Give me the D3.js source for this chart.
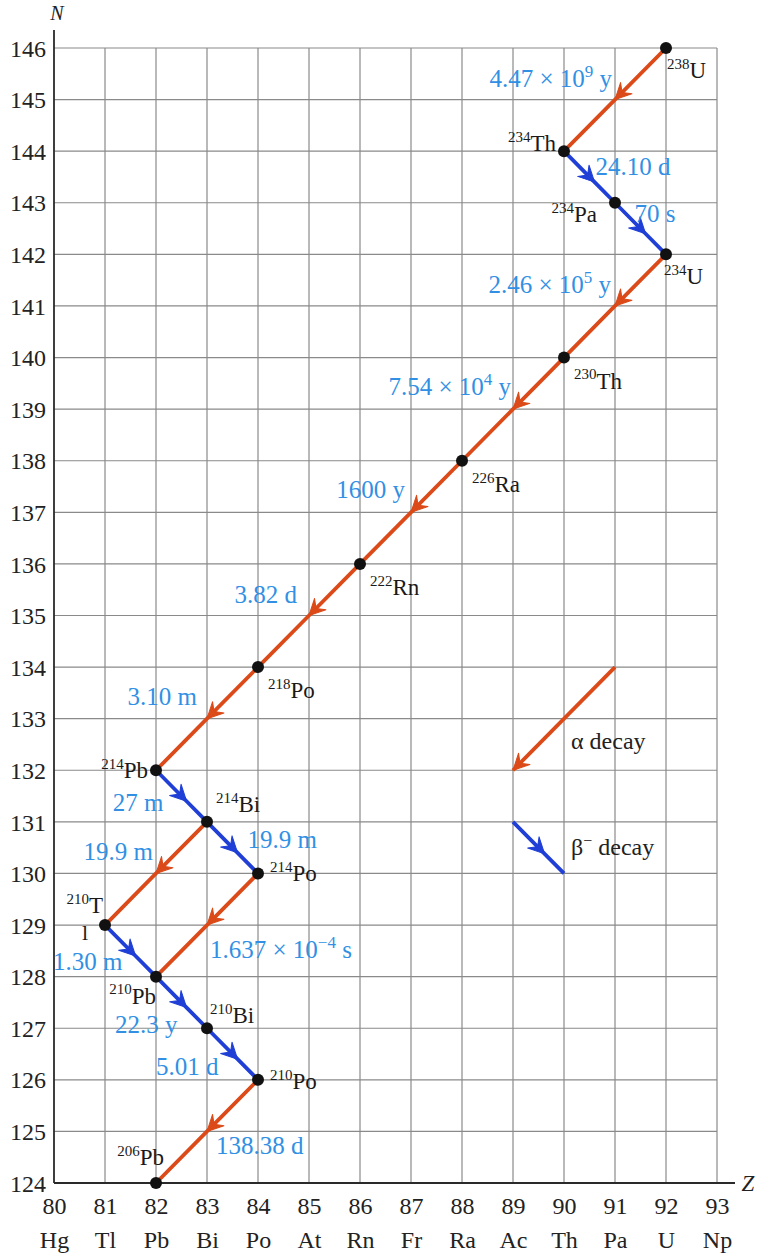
<!DOCTYPE html>
<html>
<head>
<meta charset="utf-8">
<script src="https://cdn.jsdelivr.net/npm/d3@7"></script>
<style>
  body { margin: 0; background: #fff; }
</style>
</head>
<body>
<svg id="chart" width="761" height="1255" font-family="'Liberation Serif', 'Times New Roman', Times, serif"></svg>
<script>
// axis ticks
const zTicks = [80, 81, 82, 83, 84, 85, 86, 87, 88, 89, 90, 91, 92, 93];
const elements = ["Hg", "Tl", "Pb", "Bi", "Po", "At", "Rn", "Fr", "Ra", "Ac", "Th", "Pa", "U", "Np"];
const nTicks = [124, 125, 126, 127, 128, 129, 130, 131, 132, 133, 134, 135,
  136, 137, 138, 139, 140, 141, 142, 143, 144, 145, 146];

// nuclides: id, label ({..} = superscript), Z, N
const nuclides = [
  ["U238", "{238}U", 92, 146],
  ["Th234", "{234}Th", 90, 144],
  ["Pa234", "{234}Pa", 91, 143],
  ["U234", "{234}U", 92, 142],
  ["Th230", "{230}Th", 90, 140],
  ["Ra226", "{226}Ra", 88, 138],
  ["Rn222", "{222}Rn", 86, 136],
  ["Po218", "{218}Po", 84, 134],
  ["Pb214", "{214}Pb", 82, 132],
  ["Bi214", "{214}Bi", 83, 131],
  ["Po214", "{214}Po", 84, 130],
  ["Tl210", "{210}T", 81, 129],
  ["Pb210", "{210}Pb", 82, 128],
  ["Bi210", "{210}Bi", 83, 127],
  ["Po210", "{210}Po", 84, 126],
  ["Pb206", "{206}Pb", 82, 124]
];

// decays: from, to, type, half-life
const decays = [
  ["U238", "Th234", "alpha", "4.47 × 10{9} y"],
  ["Th234", "Pa234", "beta", "24.10 d"],
  ["Pa234", "U234", "beta", "70 s"],
  ["U234", "Th230", "alpha", "2.46 × 10{5} y"],
  ["Th230", "Ra226", "alpha", "7.54 × 10{4} y"],
  ["Ra226", "Rn222", "alpha", "1600 y"],
  ["Rn222", "Po218", "alpha", "3.82 d"],
  ["Po218", "Pb214", "alpha", "3.10 m"],
  ["Pb214", "Bi214", "beta", "27 m"],
  ["Bi214", "Po214", "beta", "19.9 m"],
  ["Bi214", "Tl210", "alpha", "19.9 m"],
  ["Po214", "Pb210", "alpha", "1.637 × 10{−4} s"],
  ["Tl210", "Pb210", "beta", "1.30 m"],
  ["Pb210", "Bi210", "beta", "22.3 y"],
  ["Bi210", "Po210", "beta", "5.01 d"],
  ["Po210", "Pb206", "alpha", "138.38 d"]
];

// legend arrows: type, [z0, n0], [z1, n1], label
const legend = [
  ["alpha", [91, 134], [89, 132], "α decay"],
  ["beta", [89, 131], [90, 130], "β{−} decay"]
];

// label placement (pixels from node / segment midpoint)
const nodeLabelPos = {
  U238: [1, 30, "start"], Th234: [-8, 0, "end"], Pa234: [-18, 19, "end"],
  U234: [-2, 30, "start"], Th230: [10, 31, "start"], Ra226: [10, 31, "start"],
  Rn222: [10, 31, "start"], Po218: [10, 31, "start"], Pb214: [-8, 8, "end"],
  Bi214: [9, -10, "start"], Po214: [12, 8, "start"], Tl210: [-2, -12, "end"],
  Pb210: [0, 27, "end"], Bi210: [3, -5, "start"], Po210: [12, 9, "start"],
  Pb206: [8, -18, "end"]
};
const decayLabelPos = [
  [-3, -13, "end"], [6, -2, "start"], [-6, -7, "start"], [-4, -13, "end"],
  [-2, -14, "end"], [-6, -14, "end"], [-12, -13, "end"], [-10, -14, "end"],
  [-18, 15, "end"], [15, 0, "start"], [-3, -13, "end"], [3, 33, "start"],
  [-8, 19, "end"], [-4, 31, "end"], [-14, 21, "end"], [9, 23, "start"]
];

const alphaColor = "#db4a18", betaColor = "#1f3fd6", timeColor = "#3190e4";
const gridColor = "#8a8a8a", axisColor = "#2a2a2a";
const FONT = "'Liberation Serif', 'Times New Roman', Times, serif";

const svg = d3.select("#chart");
const x = d3.scaleLinear().domain([80, 93]).range([54, 717]);
const y = d3.scaleLinear().domain([124, 146]).range([1183, 48]);

// text with {superscript} parts
function rich(sel, str, size) {
  sel.attr("font-family", FONT);
  const parts = str.split(/(\{[^}]*\})/).filter(s => s.length);
  let raised = false;
  parts.forEach(p => {
    if (p[0] === "{") {
      sel.append("tspan").attr("font-size", Math.round(size * 0.66))
        .attr("dy", raised ? 0 : -size * 0.4).text(p.slice(1, -1));
      raised = true;
    } else {
      sel.append("tspan").attr("font-size", size)
        .attr("dy", raised ? size * 0.4 : 0).text(p);
      raised = false;
    }
  });
}

// markers
const defs = svg.append("defs");
[["alpha", alphaColor], ["beta", betaColor]].forEach(([k, c]) => {
  defs.append("marker")
    .attr("id", "head-" + k)
    .attr("viewBox", "-18 -10 22 20")
    .attr("refX", 1).attr("refY", 0)
    .attr("markerWidth", 22).attr("markerHeight", 20)
    .attr("markerUnits", "userSpaceOnUse")
    .attr("orient", "auto")
    .append("path")
    .attr("d", "M-15,-8 L1,0 L-15,8 L-9,0 Z")
    .attr("fill", c)
    .attr("stroke", c).attr("stroke-width", 1).attr("stroke-linejoin", "round");
});

// grid
const grid = svg.append("g");
grid.selectAll("line.v").data(zTicks.slice(1)).join("line")
  .attr("x1", d => x(d)).attr("x2", d => x(d))
  .attr("y1", y(124)).attr("y2", y(146))
  .attr("stroke", gridColor).attr("stroke-width", 1.2);
grid.selectAll("line.h").data(nTicks.slice(1)).join("line")
  .attr("x1", x(80)).attr("x2", x(93))
  .attr("y1", d => y(d)).attr("y2", d => y(d))
  .attr("stroke", gridColor).attr("stroke-width", 1.2);

// axis lines
svg.append("line").attr("x1", x(80)).attr("x2", x(80))
  .attr("y1", y(124)).attr("y2", 30)
  .attr("stroke", axisColor).attr("stroke-width", 1.8);
svg.append("line").attr("x1", x(80)).attr("x2", 735)
  .attr("y1", y(124)).attr("y2", y(124))
  .attr("stroke", axisColor).attr("stroke-width", 1.8);

svg.append("text").attr("x", 57).attr("y", 20).attr("text-anchor", "middle")
  .attr("font-family", FONT)
  .attr("font-size", 20).attr("font-style", "italic").attr("fill", "#222").text("N");
svg.append("text").attr("x", 748).attr("y", 1191).attr("text-anchor", "middle")
  .attr("font-family", FONT)
  .attr("font-size", 23).attr("font-style", "italic").attr("fill", "#222").text("Z");

// tick labels
const yAxis = svg.append("g").attr("transform", `translate(${x(80)},0)`)
  .call(d3.axisLeft(y).tickValues(nTicks).tickSize(0).tickPadding(8))
  .attr("font-family", FONT);
yAxis.select(".domain").remove();
yAxis.selectAll("text").attr("font-size", 24).attr("fill", "#222")
  .attr("dy", "0.34em");

const xAxis = svg.append("g").attr("transform", `translate(0,${y(124)})`)
  .call(d3.axisBottom(x).tickValues(zTicks).tickSize(0).tickPadding(14))
  .attr("font-family", FONT);
xAxis.select(".domain").remove();
xAxis.selectAll("text").attr("font-size", 24).attr("fill", "#222");

const elAxis = svg.append("g").attr("transform", `translate(0,${y(124) + 48})`)
  .call(d3.axisBottom(x).tickValues(zTicks).tickSize(0).tickPadding(0)
    .tickFormat((d, i) => elements[i]))
  .attr("font-family", FONT);
elAxis.select(".domain").remove();
elAxis.selectAll("text").attr("font-size", 24).attr("fill", "#222");

// decay arrows
const byId = new Map(nuclides.map(d => [d[0], d]));
const arrows = svg.append("g");
decays.forEach(([from, to, type]) => {
  const a = byId.get(from), b = byId.get(to);
  const t = type === "alpha" ? 0.5 : 0.6;
  const mz = a[2] + (b[2] - a[2]) * t, mn = a[3] + (b[3] - a[3]) * t;
  arrows.append("path")
    .attr("d", d3.line()([[x(a[2]), y(a[3])], [x(mz), y(mn)], [x(b[2]), y(b[3])]]))
    .attr("fill", "none")
    .attr("stroke", type === "alpha" ? alphaColor : betaColor)
    .attr("stroke-width", 3.8)
    .attr("marker-mid", `url(#head-${type})`);
});

// legend arrows
legend.forEach(([type, p0, p1, label]) => {
  const pts = type === "alpha"
    ? [[x(p0[0]), y(p0[1])], [x(p1[0]), y(p1[1])]]
    : [[x(p0[0]), y(p0[1])],
       [x(p0[0] + (p1[0] - p0[0]) * 0.62), y(p0[1] + (p1[1] - p0[1]) * 0.62)],
       [x(p1[0]), y(p1[1])]];
  svg.append("path").attr("d", d3.line()(pts))
    .attr("fill", "none")
    .attr("stroke", type === "alpha" ? alphaColor : betaColor)
    .attr("stroke-width", 3.8)
    .attr(type === "alpha" ? "marker-end" : "marker-mid", `url(#head-${type})`);
  const t = svg.append("text")
    .attr("x", x(90) + 7)
    .attr("y", type === "alpha" ? y(132.42) : y(130.35))
    .attr("fill", "#222");
  rich(t, label, 24);
});

// nuclide dots
svg.append("g").selectAll("circle").data(nuclides).join("circle")
  .attr("cx", d => x(d[2])).attr("cy", d => y(d[3]))
  .attr("r", 6).attr("fill", "#111");

// nuclide labels
nuclides.forEach(d => {
  const [dx, dy, anchor] = nodeLabelPos[d[0]];
  const t = svg.append("text")
    .attr("x", x(d[2]) + dx).attr("y", y(d[3]) + dy)
    .attr("text-anchor", anchor).attr("fill", "#1a1a1a");
  rich(t, d[1], 23);
});
// stray "l" of Tl, broken onto its own line as in the original
const tl = byId.get("Tl210");
svg.append("text").attr("x", x(tl[2]) - 20).attr("y", y(tl[3]) + 15)
  .attr("font-family", FONT)
  .attr("text-anchor", "middle").attr("font-size", 22).attr("fill", "#1a1a1a").text("l");

// half-life labels
decays.forEach((d, i) => {
  const a = byId.get(d[0]), b = byId.get(d[1]);
  const mz = (a[2] + b[2]) / 2, mn = (a[3] + b[3]) / 2;
  const [dx, dy, anchor] = decayLabelPos[i];
  const t = svg.append("text")
    .attr("x", x(mz) + dx).attr("y", y(mn) + dy)
    .attr("text-anchor", anchor).attr("fill", timeColor);
  rich(t, d[3], 25);
});
</script>
</body>
</html>
